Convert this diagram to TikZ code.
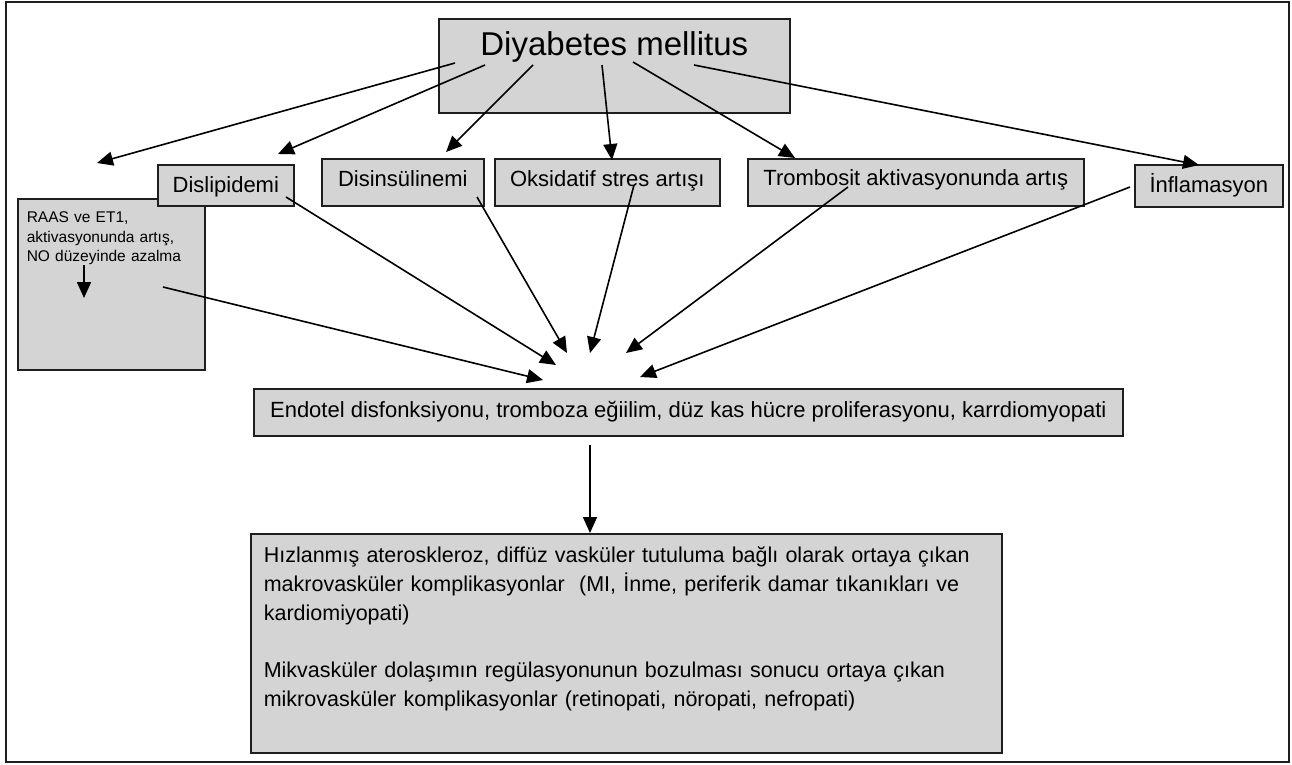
\documentclass[tikz,border=0pt]{standalone}
\usepackage{fontspec}
\setmainfont{Liberation Sans}
\usetikzlibrary{arrows.meta}
\definecolor{boxgray}{RGB}{212,212,212}
\definecolor{edge}{RGB}{30,30,30}
\begin{document}
\begin{tikzpicture}[x=1pt,y=-1pt,
  box/.style={draw=edge, fill=boxgray, line width=1.6pt, inner xsep=0pt, inner ysep=0pt,
              anchor=north west, font=\fontsize{22pt}{26pt}\selectfont},
  tb/.style 2 args={text height=#1, text depth=#2},
  arr/.style={line width=1.6pt, draw=black, -{Triangle[length=16pt,width=14pt]}}]
\useasboundingbox (0,0) rectangle (1292,764);
\draw[line width=1.5pt, draw=edge] (6,2) rectangle (1289,762);

% boxes
\node[box, minimum width=351pt, tb={37pt}{57pt}, font=\fontsize{33pt}{36pt}\selectfont] (dm) at (438,18) {Diyabetes mellitus};
\node[box, text width=169pt, inner xsep=9pt, align=left, tb={24pt}{147pt},
      font=\fontsize{15.5pt}{19.5pt}\selectfont] (raas) at (17,198)
      {RAAS ve ET1,\\ aktivasyonunda artış,\\ NO düzeyinde azalma};
\node[box, minimum width=136pt, tb={28pt}{13pt}] (dis) at (157,164) {Dislipidemi};
\node[box, minimum width=162pt, tb={28pt}{19pt}] (din) at (321,158) {Disinsülinemi};
\node[box, minimum width=225pt, tb={28pt}{19pt}] (oks) at (494,158) {Oksidatif stres artışı};
\node[box, minimum width=336pt, tb={27pt}{20pt}] (tro) at (747,158) {Trombosit aktivasyonunda artış};
\node[box, minimum width=148pt, tb={28pt}{14pt}] (inf) at (1134,164) {İnflamasyon};
\node[box, minimum width=869pt, tb={29pt}{18pt}] (end) at (253,388)
      {Endotel disfonksiyonu, tromboza eğiilim, düz kas hücre proliferasyonu, karrdiomyopati};
\node[box, text width=725pt, inner xsep=13pt, align=left, tb={29pt}{190pt},
      font=\fontsize{21.5pt}{29pt}\selectfont] (fin) at (250,533)
      {Hızlanmış ateroskleroz, diffüz vasküler tutuluma bağlı olarak ortaya çıkan\\
       makrovasküler komplikasyonlar\ \ (MI, İnme, periferik damar tıkanıkları ve\\
       kardiomiyopati)\\[28pt]
       Mikvasküler dolaşımın regülasyonunun bozulması sonucu ortaya çıkan\\
       mikrovasküler komplikasyonlar (retinopati, nöropati, nefropati)};

% connector end points
\coordinate (d1) at (455,63);  \coordinate (t1) at (97,163);
\coordinate (d2) at (485,65);  \coordinate (t2) at (278,154);
\coordinate (d3) at (533,65);  \coordinate (t3) at (446,152);
\coordinate (d4) at (602,65);  \coordinate (t4) at (612,160);
\coordinate (d5) at (633,62);  \coordinate (t5) at (795,158);
\coordinate (d6) at (694,65);  \coordinate (t6) at (1199,165);

\coordinate (r1) at (163,287);  \coordinate (e1) at (543,380);
\coordinate (r2) at (286,197);  \coordinate (e2) at (556,365);
\coordinate (r3) at (477,197);  \coordinate (e3) at (567,353);
\coordinate (r4) at (634,185);  \coordinate (e4) at (590,353);
\coordinate (r5) at (848,187);  \coordinate (e5) at (626,353);
\coordinate (r6) at (1130,187); \coordinate (e6) at (640,377);

\coordinate (ra) at (84,265);   \coordinate (rb) at (84,298);
\coordinate (f0) at (590,445);

% connectors
\foreach \i in {1,...,6} {\draw[arr] (d\i) -- (t\i);}
\foreach \i in {1,...,6} {\draw[arr] (r\i) -- (e\i);}
\draw[arr] (ra) -- (rb);
\draw[arr] (f0) -- (f0 |- fin.north);
\end{tikzpicture}
\end{document}
